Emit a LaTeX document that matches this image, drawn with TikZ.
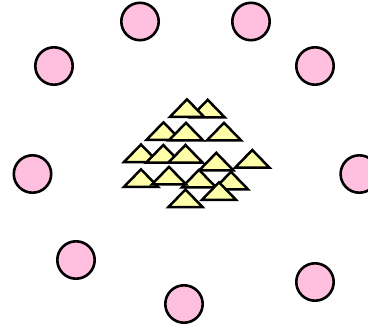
\documentclass[tikz,border=0pt]{standalone}
\definecolor{pinkfill}{RGB}{255,192,224}
\definecolor{yellowfill}{RGB}{255,255,170}
\begin{document}
\begin{tikzpicture}[x=1pt,y=-1pt,
  ball/.style={draw=black,fill=pinkfill,line width=2.6pt},
  tri/.pic={\draw[fill=yellowfill,line width=2.5pt,line join=miter] (0,0) -- (17,17.5) -- (-17,17.5) -- cycle;}]
\useasboundingbox (0,0) rectangle (368,330);
% circles
\foreach \cx/\cy in {140/21.5, 251/21.5, 54/66, 315/66, 32.5/174, 359.3/174, 76/260, 184/304, 315/282}
  \draw[ball] (\cx,\cy) circle[radius=18.7pt];
% triangles (apex positions), drawn back to front
\foreach \tx/\ty in {207.7/99.8, 187/99.3,
                     163.5/122.3, 186/122.8, 224/122.8,
                     141/144.5, 163.3/145, 185.5/145,
                     199/169.8, 231/171.8,
                     216.3/152.8, 252.3/150,
                     141/169.3, 169/166.8,
                     219/182.3, 185.5/189.5}
  \pic at (\tx,\ty) {tri};
\end{tikzpicture}
\end{document}
